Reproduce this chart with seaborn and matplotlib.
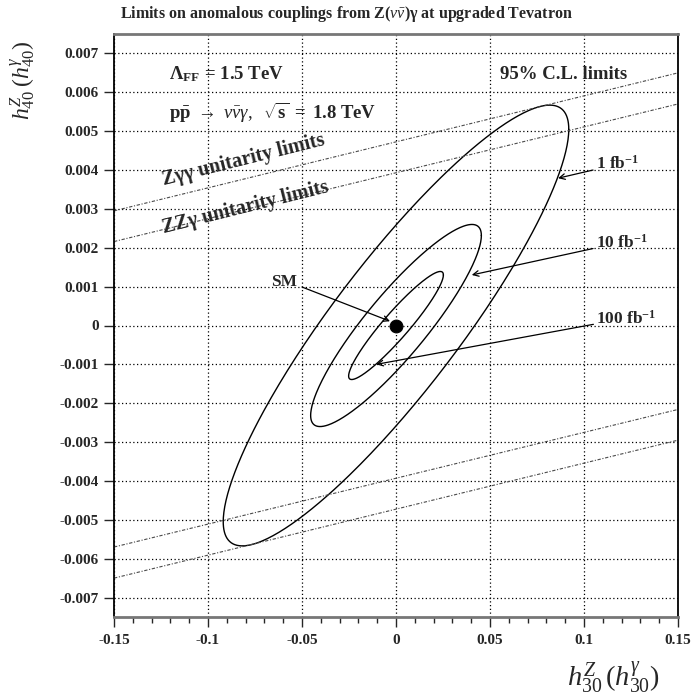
import numpy as np
import pandas as pd
import matplotlib
matplotlib.use("Agg")
import matplotlib.pyplot as plt
import seaborn as sns

# ---------------- data ----------------
title = r"Limits on anomalous couplings from Z($\nu\bar{\nu}$)γ at upgraded Tevatron"

# 95% C.L. contours (centred on SM point): half-extent in x, half-extent in y, correlation
contour_labels = [r"1 fb$^{\mathbf{-1}}$", r"10 fb$^{\mathbf{-1}}$", r"100 fb$^{\mathbf{-1}}$"]
contour_x_half = [0.0919, 0.0454, 0.0252]
contour_y_half = [0.00567, 0.00260, 0.00139]
contour_corr = [0.89, 0.89, 0.935]

# unitarity limit lines: endpoints at x = -0.15 and x = 0.15
unit_x = [-0.15, 0.15]
zgg_upper = [0.00295, 0.0065]
zgg_lower = [-0.0065, -0.00295]
zzg_upper = [0.00216, 0.0057]
zzg_lower = [-0.0057, -0.00216]

sm_point = (0.0, 0.0)

x_ticks = [-0.15, -0.1, -0.05, 0, 0.05, 0.1, 0.15]
x_tick_labels = ["-0.15", "-0.1", "-0.05", "0", "0.05", "0.1", "0.15"]
y_ticks = [-0.007, -0.006, -0.005, -0.004, -0.003, -0.002, -0.001, 0,
           0.001, 0.002, 0.003, 0.004, 0.005, 0.006, 0.007]
y_tick_labels = ["-0.007", "-0.006", "-0.005", "-0.004", "-0.003", "-0.002", "-0.001", "0",
                 "0.001", "0.002", "0.003", "0.004", "0.005", "0.006", "0.007"]

# ---------------- style ----------------
sns.set_style("white")
plt.rcParams["font.family"] = ["Liberation Serif", "DejaVu Serif"]
plt.rcParams["mathtext.fontset"] = "custom"
plt.rcParams["mathtext.rm"] = "Liberation Serif"
plt.rcParams["mathtext.it"] = "Liberation Serif:italic"
plt.rcParams["mathtext.bf"] = "Liberation Serif:bold"

fig = plt.figure(figsize=(6.93, 6.98), dpi=100)
ax = fig.add_axes([114 / 693, 1 - 617 / 698, (678 - 114) / 693, (617 - 34) / 698])

# contours
t = np.linspace(0, 2 * np.pi, 400)
rows = []
for lab, xh, yh, rho in zip(contour_labels, contour_x_half, contour_y_half, contour_corr):
    phi = np.arccos(rho)
    rows.append(pd.DataFrame({"x": xh * np.cos(t), "y": yh * np.cos(t - phi), "c": lab}))
contours = pd.concat(rows, ignore_index=True)
for lab in contour_labels:
    d = contours[contours["c"] == lab]
    sns.lineplot(data=d, x="x", y="y", sort=False, estimator=None, color="black",
                 lw=1.0, ax=ax)

# unitarity lines
for yy in [zgg_upper, zgg_lower, zzg_upper, zzg_lower]:
    sns.lineplot(x=unit_x, y=yy, sort=False, estimator=None, color="#4a4a4a", lw=0.8,
                 linestyle=(0, (3, 1.5, 1, 1.5)), ax=ax)

# SM point
sns.scatterplot(x=[sm_point[0]], y=[sm_point[1]], s=85, color="black", edgecolor="black",
                ax=ax, zorder=5)

ax.set_xlim(-0.15, 0.15)
ax.set_ylim(-0.0075, 0.0075)
ax.set_xticks(x_ticks)
ax.set_xticklabels(x_tick_labels)
ax.set_yticks(y_ticks)
ax.set_yticklabels(y_tick_labels)
ax.set_xticks(np.arange(-0.15, 0.1501, 0.01), minor=True)
ax.tick_params(axis="both", which="major", direction="out", length=7, width=1.0,
               labelsize=11, bottom=True, left=True)
ax.tick_params(axis="x", which="minor", direction="out", length=4, width=1.0, bottom=True)
ax.tick_params(axis="x", pad=5)
ax.tick_params(axis="y", pad=4)
for lab in ax.get_xticklabels() + ax.get_yticklabels():
    lab.set_fontweight("bold")
ax.grid(True, which="major", color="black", linestyle=(0, (1, 2)), lw=0.9)
ax.set_axisbelow(True)
for side in ["top", "bottom"]:
    ax.spines[side].set_color("#777777")
    ax.spines[side].set_linewidth(2.0)
for side in ["left", "right"]:
    ax.spines[side].set_color("black")
    ax.spines[side].set_linewidth(1.3)
ax.set_xlabel("")
ax.set_ylabel("")

# title and axis labels
fig.text(0.5, 1 - 14 / 698, title, ha="center", va="center", fontsize=11.5, fontweight="bold")
fig.text(613 / 693, 1 - 678 / 698, r"$h^{Z}_{30}\,(h^{\gamma}_{30})$", ha="center",
         va="center", fontsize=20.5)
fig.text(23 / 693, 1 - 80 / 698, r"$h^{Z}_{40}\;(h^{\gamma}_{40})$", ha="center",
         va="center", fontsize=17, rotation=90)

# annotations
ax.text(-0.121, 0.00647, r"$\mathbf{\Lambda_{FF}}$$\mathbf{\,=\,1.5\ TeV}$", ha="left",
        va="center", fontsize=13.5)
ax.text(-0.121, 0.00546,
        r"$\mathbf{p\bar{p}}\ \rightarrow\ \nu\bar{\nu}\gamma,\ \ \sqrt{\mathbf{s}}\mathbf{\ =\ 1.8\ TeV}$",
        ha="left", va="center", fontsize=13.5)
ax.text(0.123, 0.00647, "95% C.L. limits", ha="right", va="center", fontsize=13.5,
        fontweight="bold")
ax.text(-0.081, 0.00425, "Zγγ unitarity limits", ha="center", va="center",
        fontsize=14.5, fontweight="bold", rotation=14)
ax.text(-0.080, 0.00304, "ZZγ unitarity limits", ha="center", va="center",
        fontsize=14.5, fontweight="bold", rotation=14)

arrow = dict(arrowstyle="->", color="black", lw=0.9, shrinkA=0, shrinkB=0)
ax.annotate("", xy=(0.0862, 0.00379), xytext=(0.1048, 0.0040), arrowprops=arrow)
ax.text(0.1065, 0.00415, contour_labels[0], ha="left", va="center", fontsize=12.5,
        fontweight="bold")
ax.annotate("", xy=(0.0403, 0.00130), xytext=(0.1048, 0.00198), arrowprops=arrow)
ax.text(0.1065, 0.00214, contour_labels[1], ha="left", va="center", fontsize=12.5,
        fontweight="bold")
ax.annotate("", xy=(-0.0105, -0.00100), xytext=(0.105, 0.00003), arrowprops=arrow)
ax.text(0.1065, 0.00017, contour_labels[2], ha="left", va="center", fontsize=12.5,
        fontweight="bold")
ax.annotate("", xy=(-0.0032, 0.00011), xytext=(-0.050, 0.00099), arrowprops=arrow)
ax.text(-0.0595, 0.00112, "SM", ha="center", va="center", fontsize=12.5, fontweight="bold")

fig.savefig("out.png", dpi=100)
